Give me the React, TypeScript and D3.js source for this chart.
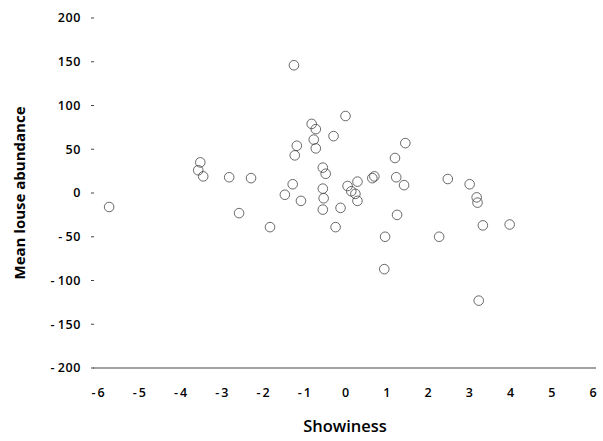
import React from "react"
import * as d3 from "d3"

// showiness vs mean louse abundance
const showiness = [
	-5.73, -3.52, -3.57, -3.45, -2.82, -2.29, -2.58, -1.83, -1.25, -1.18, -1.23, -1.28, -1.47,
	-1.08, -0.82, -0.72, -0.77, -0.72, -0.29, 0.0, -0.55, -0.48, -0.55, -0.53, -0.55, -0.24,
	-0.12, 0.05, 0.14, 0.24, 0.29, 0.29, 0.65, 0.7, 1.2, 1.45, 1.23, 1.42, 1.25, 0.96, 0.94,
	2.27, 2.48, 3.01, 3.18, 3.2, 3.33, 3.98, 3.23,
]
const abundance = [
	-16, 35, 26, 19, 18, 17, -23, -39, 146, 54, 43, 10, -2, -9, 79, 73, 61, 51, 65, 88, 29, 22,
	5, -6, -19, -39, -17, 8, 2, -1, 13, -9, 17, 19, 40, 57, 18, 9, -25, -50, -87, -50, 16, 10,
	-5, -11, -37, -36, -123,
]
const xTicks = [-6, -5, -4, -3, -2, -1, 0, 1, 2, 3, 4, 5, 6]
const yTicks = [200, 150, 100, 50, 0, -50, -100, -150, -200]

const W = 603
const H = 441

const fmt = (v: number) => (v < 0 ? "-\u2009" + Math.abs(v) : String(v))

export default function App() {
	const x = d3.scaleLinear().domain([-6, 6]).range([98, 593])
	const y = d3.scaleLinear().domain([-200, 200]).range([368, 18])

	const pts = showiness.map((s, i) => ({ s, a: abundance[i] }))

	return (
		<svg
			width={W}
			height={H}
			style={{ position: "absolute", left: 0, top: 0, background: "#fff" }}
			fontFamily="'Open Sans', sans-serif">
			{/* y ticks, no axis line */}
			{yTicks.map((t) => (
				<g key={"y" + t}>
					<line x1={91} x2={94} y1={y(t)} y2={y(t)} stroke="#444" strokeWidth={1} />
					<text
						x={81}
						y={y(t)}
						dy="0.35em"
						textAnchor="end"
						fontSize={12.5}
						fontWeight={600}
						fill="#000"
						letterSpacing={0.6}>
						{fmt(t)}
					</text>
				</g>
			))}
			{/* x axis */}
			<line x1={93} x2={596} y1={y(-200)} y2={y(-200)} stroke="#444" strokeWidth={1.2} />
			{xTicks.map((t) => (
				<text
					key={"x" + t}
					x={x(t)}
					y={397}
					textAnchor="middle"
					fontSize={12.5}
					fontWeight={600}
					fill="#000">
					{fmt(t)}
				</text>
			))}
			{pts.map((p, i) => (
				<circle
					key={i}
					cx={x(p.s)}
					cy={y(p.a)}
					r={4.8}
					fill="none"
					stroke="#444"
					strokeWidth={0.8}
				/>
			))}
			<text x={345} y={432} textAnchor="middle" fontSize={16.5} fontWeight={600} fill="#000">
				Showiness
			</text>
			<text
				transform={`translate(25, ${y(0)}) rotate(-90)`}
				textAnchor="middle"
				fontSize={15}
				fontWeight={700}
				fill="#000">
				Mean louse abundance
			</text>
		</svg>
	)
}
